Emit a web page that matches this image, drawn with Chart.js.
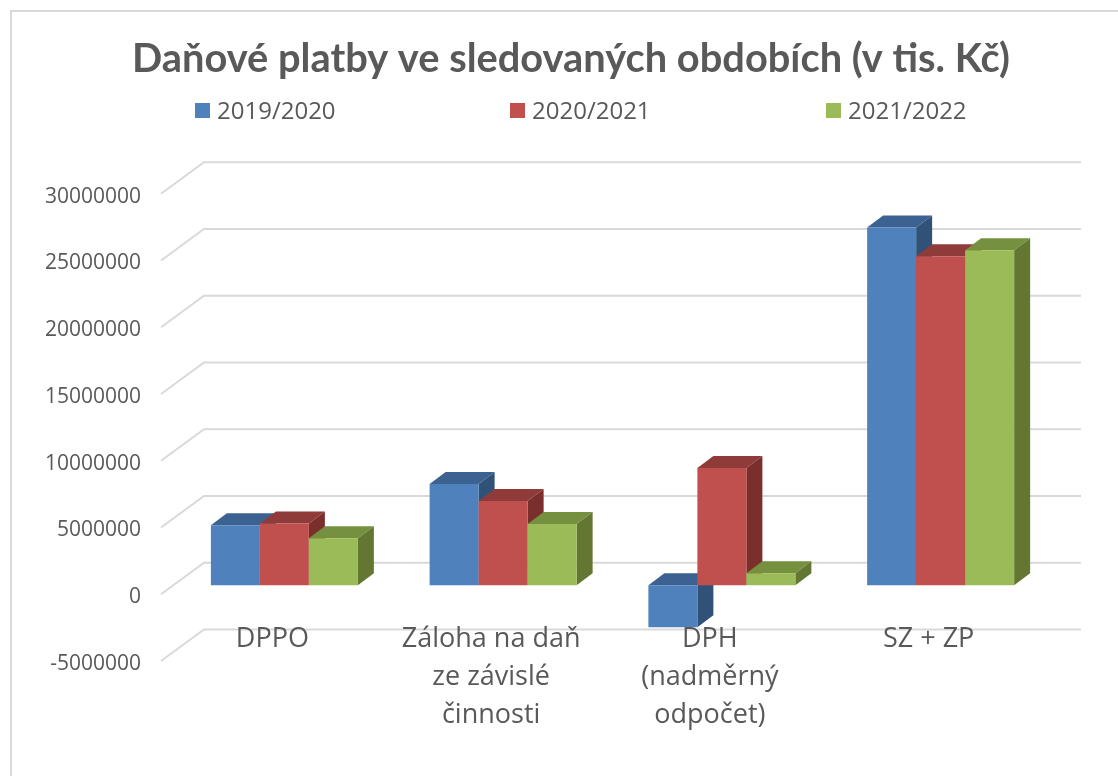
<!DOCTYPE html>
<html>
<head>
<meta charset="utf-8">
<title>Daňové platby</title>
<script src="https://cdn.jsdelivr.net/npm/chart.js@4"></script>
<style>
    html, body { margin: 0; padding: 0; background: #fff; overflow: hidden; }
    #frame { position: absolute; left: 10px; top: 10px; width: 1200px; height: 900px; border: 2px solid #d9d9d9; }
    #chart { position: absolute; left: 0; top: 0; }
</style>
</head>
<body>
<div id="frame"></div>
<canvas id="chart" width="1118" height="776"></canvas>
<script>
// Chart data
const categories = ['DPPO', ['Záloha na daň', 'ze závislé', 'činnosti'], ['DPH', '(nadměrný', 'odpočet)'], 'SZ + ZP'];
const seriesNames = ['2019/2020', '2020/2021', '2021/2022'];
const values2019 = [4500000, 7580000, -3150000, 26800000];
const values2020 = [4620000, 6310000, 8780000, 24650000];
const values2021 = [3530000, 4580000, 900000, 25100000];

// Front, top and side colours of each series
const frontColors = ['#4f81bd', '#c0504d', '#9bbb59'];
const topColors = ['#3c6291', '#8e3b39', '#75903f'];
const sideColors = ['#305279', '#7a2f2d', '#647732'];

const textColor = '#595959';
const gridColor = '#d9d9d9';
const titleFont = 'Lato, sans-serif';
const labelFont = '"Open Sans", sans-serif';

// Depth of the 3D box in pixels
const barDepthX = 16;
const barDepthY = 12;
const barShiftY = -9;
const wallDepthX = 43;
const wallDepthY = 31.5;

function fillFace(ctx, points, color) {
    ctx.fillStyle = color;
    ctx.beginPath();
    points.forEach((p, i) => i ? ctx.lineTo(p[0], p[1]) : ctx.moveTo(p[0], p[1]));
    ctx.closePath();
    ctx.fill();
}

// Draws the wall gridlines, then the bars with their top and side faces
const box3d = {
    id: 'box3d',
    // The axis clips its labels to its own box, so widen it to the left after layout
    afterLayout(chart) {
        chart.scales.y.left = 0;
    },
    beforeDatasetsDraw(chart) {
        const ctx = chart.ctx;
        const y = chart.scales.y;
        const area = chart.chartArea;

        ctx.save();
        ctx.strokeStyle = gridColor;
        ctx.lineWidth = 2;
        y.ticks.forEach(tick => {
            const py = y.getPixelForValue(tick.value);
            ctx.beginPath();
            ctx.moveTo(area.left - 14, py);
            ctx.lineTo(area.left - 14 + wallDepthX, py - wallDepthY);
            ctx.lineTo(area.right + 31, py - wallDepthY);
            ctx.stroke();
        });
        ctx.restore();

        ctx.save();
        ctx.translate(0, barShiftY);
        chart.data.datasets.forEach((ds, i) => {
            const meta = chart.getDatasetMeta(i);
            meta.data.forEach(bar => {
                const p = bar.getProps(['x', 'y', 'base', 'width'], true);
                const left = p.x - p.width / 2;
                const right = p.x + p.width / 2;
                const top = Math.min(p.y, p.base);
                const bottom = Math.max(p.y, p.base);
                fillFace(ctx, [[left, top], [right, top], [right + barDepthX, top - barDepthY], [left + barDepthX, top - barDepthY]], topColors[i]);
                fillFace(ctx, [[right, top], [right + barDepthX, top - barDepthY], [right + barDepthX, bottom - barDepthY], [right, bottom]], sideColors[i]);
                bar.draw(ctx);
            });
        });
        ctx.restore();
        return false;
    },
    // Legend drawn by hand, the built in one cannot space items this wide without growing tall
    afterDraw(chart) {
        const ctx = chart.ctx;
        const legendX = [195, 510, 826];
        ctx.save();
        ctx.font = '24px ' + labelFont;
        ctx.textBaseline = 'middle';
        chart.data.datasets.forEach((ds, i) => {
            ctx.fillStyle = ds.backgroundColor;
            ctx.fillRect(legendX[i], 103, 15, 15);
            ctx.fillStyle = textColor;
            ctx.fillText(ds.label, legendX[i] + 22, 112);
        });
        ctx.restore();
    }
};

new Chart(document.getElementById('chart').getContext('2d'), {
    type: 'bar',
    data: {
        labels: categories,
        datasets: [
            { label: seriesNames[0], data: values2019, backgroundColor: frontColors[0] },
            { label: seriesNames[1], data: values2020, backgroundColor: frontColors[1] },
            { label: seriesNames[2], data: values2021, backgroundColor: frontColors[2] }
        ]
    },
    plugins: [box3d],
    options: {
        responsive: false,
        animation: false,
        layout: { padding: { left: 92, right: 68, top: 10, bottom: 115 } },
        datasets: { bar: { categoryPercentage: 0.672, barPercentage: 1, borderWidth: 0 } },
        plugins: {
            legend: { display: false },
            tooltip: { enabled: false },
            title: {
                display: true,
                text: 'Daňové platby ve sledovaných obdobích (v tis. Kč)',
                color: textColor,
                font: { family: titleFont, size: 39.8, weight: 'bold', lineHeight: 1.2 },
                padding: { top: 25, bottom: 111 }
            }
        },
        scales: {
            x: {
                position: { y: 0 },
                grid: { display: false },
                border: { display: false },
                ticks: {
                    color: textColor,
                    font: { family: labelFont, size: 27, lineHeight: 1.41 },
                    padding: 18,
                    labelOffset: -12,
                    maxRotation: 0,
                    autoSkip: false,
                    z: 1
                }
            },
            y: {
                min: -5000000,
                max: 30000000,
                afterFit(scale) { scale.width = 83; },
                grid: { display: false, drawTicks: false },
                border: { display: false },
                ticks: {
                    stepSize: 5000000,
                    color: textColor,
                    font: { family: labelFont, size: 21 },
                    padding: 34,
                    labelOffset: 3,
                    callback: value => String(value)
                }
            }
        }
    }
});
</script>
</body>
</html>
